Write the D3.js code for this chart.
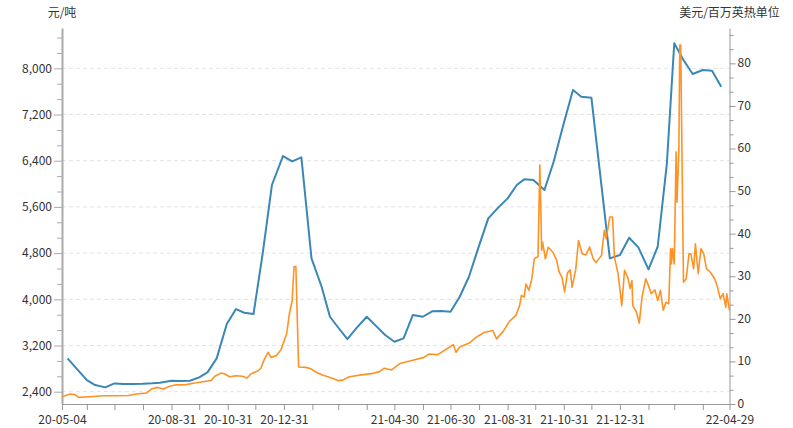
<!DOCTYPE html>
<html><head><meta charset="utf-8">
<script src="https://cdn.jsdelivr.net/npm/d3@7"></script>
<style>
body{margin:0;background:#fff}
svg{display:block}
text{font-family:"Noto Sans CJK SC","Noto Sans",sans-serif}
</style>
</head><body>
<svg id="chart" width="793" height="428"></svg>
<script>
// ---- data ----
const blueDates = ["2020-05-10","2020-05-31","2020-06-09","2020-06-20","2020-06-30","2020-07-10","2020-07-20","2020-07-31","2020-08-10","2020-08-18","2020-08-31","2020-09-10","2020-09-20","2020-09-30","2020-10-09","2020-10-19","2020-10-30","2020-11-09","2020-11-18","2020-11-28","2020-12-08","2020-12-18","2020-12-30","2021-01-09","2021-01-19","2021-01-30","2021-02-10","2021-02-19","2021-03-01","2021-03-10","2021-03-20","2021-03-31","2021-04-10","2021-04-20","2021-04-30","2021-05-10","2021-05-20","2021-05-31","2021-06-10","2021-06-20","2021-06-30","2021-07-10","2021-07-20","2021-07-30","2021-08-10","2021-08-20","2021-08-31","2021-09-10","2021-09-18","2021-09-28","2021-10-10","2021-10-20","2021-10-31","2021-11-10","2021-11-19","2021-11-30","2021-12-10","2021-12-20","2021-12-31","2022-01-10","2022-01-20","2022-01-31","2022-02-10","2022-02-20","2022-02-28","2022-03-10","2022-03-20","2022-03-31","2022-04-10","2022-04-20"];
const blueValues = [2977,2601,2515,2475,2544,2532,2535,2538,2545,2555,2589,2585,2589,2648,2735,2977,3571,3831,3767,3744,4796,5979,6481,6389,6459,4709,4217,3698,3490,3311,3505,3698,3540,3381,3265,3323,3727,3698,3791,3797,3784,4044,4391,4882,5402,5575,5748,5979,6077,6065,5892,6382,7047,7624,7508,7491,6100,4709,4766,5066,4900,4519,4910,6355,8433,8144,7901,7971,7958,7681];

const orangeDates = ["2020-05-04","2020-05-13","2020-05-18","2020-05-22","2020-06-03","2020-06-18","2020-07-02","2020-07-15","2020-07-24","2020-08-04","2020-08-09","2020-08-16","2020-08-22","2020-08-29","2020-09-05","2020-09-16","2020-09-25","2020-10-06","2020-10-13","2020-10-17","2020-10-24","2020-10-28","2020-11-02","2020-11-09","2020-11-16","2020-11-21","2020-11-25","2020-12-03","2020-12-06","2020-12-10","2020-12-14","2020-12-17","2020-12-23","2020-12-28","2021-01-03","2021-01-06","2021-01-09","2021-01-11","2021-01-13","2021-01-16","2021-01-24","2021-01-30","2021-02-04","2021-02-11","2021-02-19","2021-02-28","2021-03-05","2021-03-12","2021-03-27","2021-04-07","2021-04-14","2021-04-19","2021-04-27","2021-05-06","2021-05-19","2021-06-01","2021-06-07","2021-06-16","2021-06-25","2021-07-03","2021-07-06","2021-07-10","2021-07-21","2021-07-28","2021-08-06","2021-08-15","2021-08-19","2021-08-26","2021-09-02","2021-09-09","2021-09-13","2021-09-15","2021-09-18","2021-09-20","2021-09-23","2021-09-26","2021-09-29","2021-10-03","2021-10-05","2021-10-07","2021-10-08","2021-10-11","2021-10-14","2021-10-19","2021-10-23","2021-10-26","2021-10-29","2021-11-01","2021-11-04","2021-11-07","2021-11-09","2021-11-13","2021-11-16","2021-11-20","2021-11-24","2021-11-28","2021-12-02","2021-12-05","2021-12-11","2021-12-14","2021-12-16","2021-12-20","2021-12-23","2021-12-25","2021-12-29","2022-01-02","2022-01-05","2022-01-09","2022-01-11","2022-01-13","2022-01-14","2022-01-18","2022-01-21","2022-01-24","2022-01-28","2022-01-31","2022-02-03","2022-02-07","2022-02-10","2022-02-13","2022-02-16","2022-02-19","2022-02-22","2022-02-24","2022-02-25","2022-02-26","2022-02-28","2022-03-02","2022-03-03","2022-03-05","2022-03-06","2022-03-07","2022-03-10","2022-03-13","2022-03-16","2022-03-18","2022-03-21","2022-03-23","2022-03-26","2022-03-29","2022-04-01","2022-04-04","2022-04-08","2022-04-13","2022-04-16","2022-04-19","2022-04-22","2022-04-25","2022-04-26","2022-04-29"];
const orangeValues = [1.7,2.35,2.2,1.55,1.7,1.95,1.95,2.0,2.35,2.6,3.5,3.9,3.5,4.15,4.5,4.55,4.95,5.3,5.5,6.5,7.3,7.05,6.4,6.65,6.5,6.1,7.05,7.8,8.4,10.6,12.15,10.95,11.4,12.8,16.5,21.2,24.3,32.3,32.3,8.7,8.6,8.2,7.45,6.8,6.2,5.5,5.6,6.4,6.9,7.2,7.6,8.4,8.0,9.5,10.2,10.95,11.75,11.6,12.8,13.95,12.15,13.4,14.4,15.7,16.85,17.25,15.3,17.0,19.4,20.8,23.1,25.5,25.1,28.2,26.7,29.0,34.1,34.6,56.1,36.1,38.0,34.1,36.8,35.7,33.9,31.0,29.8,26.3,30.8,31.5,27.4,31.6,38.4,35.3,35.0,36.85,34.1,33.2,34.9,40.8,38.8,43.9,43.9,34.5,30.6,23.1,31.4,29.4,27.1,29.0,23.1,21.55,19.0,25.1,29.4,27.8,25.9,26.8,24.3,26.7,22.0,23.9,23.5,36.5,32.9,36.5,32.9,59.2,47.4,59.6,84.3,84.3,28.6,29.4,35.3,35.3,31.8,37.6,30.6,36.5,35.3,31.8,31.0,29.4,27.4,24.7,25.9,22.7,25.9,22.0];

const leftTicks = [2400,3200,4000,4800,5600,6400,7200,8000];
const rightTicks = [0,10,20,30,40,50,60,70,80];
const xTickDates = ["2020-05-04","2020-05-31","2020-06-30","2020-07-31","2020-08-31","2020-09-30","2020-10-31","2020-11-30","2020-12-31","2021-01-31","2021-02-28","2021-03-31","2021-04-30","2021-05-31","2021-06-30","2021-07-31","2021-08-31","2021-09-30","2021-10-31","2021-11-30","2021-12-31","2022-01-31","2022-02-28","2022-03-31","2022-04-29"];
const xLabelDates = ["2020-05-04","2020-08-31","2020-10-31","2020-12-31","2021-04-30","2021-06-30","2021-08-31","2021-10-31","2021-12-31","2022-04-29"];
const leftName = "元/吨";
const rightName = "美元/百万英热单位";

// ---- chart ----
const parse = d3.timeParse("%Y-%m-%d");
const fmtX = d3.timeFormat("%y-%m-%d");
const svg = d3.select("#chart");
const L = 62, R = 729.5, T = 28, B = 404;

const x = d3.scaleTime().domain([parse("2020-05-04"), parse("2022-04-29")]).range([L, R]);
const yL = d3.scaleLinear().domain([2187, 8698]).range([B, T]);
const yR = d3.scaleLinear().domain([0, 88.3]).range([B, T]);

// grid
svg.append("g").selectAll("line").data(leftTicks).join("line")
  .attr("x1", L).attr("x2", R)
  .attr("y1", d => yL(d)).attr("y2", d => yL(d))
  .attr("stroke", "#e3e3e3").attr("stroke-dasharray", "4,3");

const labelColor = "#333";
function styleAxis(g, color, width) {
  g.select(".domain").attr("stroke", color).attr("stroke-width", width);
  g.selectAll(".tick line").attr("stroke", color);
  g.selectAll(".tick text").attr("fill", labelColor).style("font-size", "12px")
    .style("font-family", '"Noto Sans CJK SC","Noto Sans",sans-serif');
}

// left minor ticks
const leftMinor = d3.range(-1, 30).map(k => 2400 + k * 800 / 3)
  .filter(v => v > yL.domain()[0] && v < yL.domain()[1] && !leftTicks.some(t => Math.abs(t - v) < 1));
svg.append("g").attr("transform", `translate(${L},0)`)
  .call(d3.axisLeft(yL).tickValues(leftMinor).tickSize(5).tickFormat(""))
  .call(g => { g.select(".domain").remove(); g.selectAll(".tick line").attr("stroke", "#aaa"); });
const gl = svg.append("g").attr("transform", `translate(${L},0)`)
  .call(d3.axisLeft(yL).tickValues(leftTicks).tickSize(8).tickSizeOuter(0).tickPadding(2).tickFormat(d3.format(",")));
styleAxis(gl, "#aaa", 2);

// right minor ticks
const rightMinor = d3.range(0, 30).map(k => k * 10 / 3)
  .filter(v => v < yR.domain()[1] && !rightTicks.some(t => Math.abs(t - v) < 0.01));
svg.append("g").attr("transform", `translate(${R},0)`)
  .call(d3.axisRight(yR).tickValues(rightMinor).tickSize(4).tickFormat(""))
  .call(g => { g.select(".domain").remove(); g.selectAll(".tick line").attr("stroke", "#999"); });
const gr = svg.append("g").attr("transform", `translate(${R},0)`)
  .call(d3.axisRight(yR).tickValues(rightTicks).tickSize(6).tickSizeOuter(0).tickPadding(2));
styleAxis(gr, "#999", 1);
gr.selectAll(".tick text").attr("dy", "0.28em");

// bottom axis
const labelSet = new Set(xLabelDates);
const gb = svg.append("g").attr("transform", `translate(0,${B})`)
  .call(d3.axisBottom(x).tickValues(xTickDates.map(parse)).tickSize(6).tickSizeOuter(0).tickPadding(5)
    .tickFormat(d => labelSet.has(d3.timeFormat("%Y-%m-%d")(d)) ? fmtX(d) : ""));
styleAxis(gb, "#999", 1);

// axis names
svg.append("text").attr("x", L).attr("y", 17).attr("text-anchor", "middle")
  .attr("fill", labelColor).style("font-size", "12px").text(leftName);
svg.append("text").attr("x", R).attr("y", 17).attr("text-anchor", "middle")
  .attr("fill", labelColor).style("font-size", "12px").text(rightName);

// lines
const blueData = blueDates.map((d, i) => ({ date: parse(d), v: blueValues[i] }));
const orangeData = orangeDates.map((d, i) => ({ date: parse(d), v: orangeValues[i] }));

svg.append("path").datum(blueData)
  .attr("fill", "none").attr("stroke", "#3a87b7").attr("stroke-width", 2).attr("stroke-linejoin", "round")
  .attr("d", d3.line().x(d => x(d.date)).y(d => yL(d.v)));
svg.append("path").datum(orangeData)
  .attr("fill", "none").attr("stroke", "#ff9224").attr("stroke-width", 1.6).attr("stroke-linejoin", "round")
  .attr("d", d3.line().x(d => x(d.date)).y(d => yR(d.v)));
</script>
</body></html>
